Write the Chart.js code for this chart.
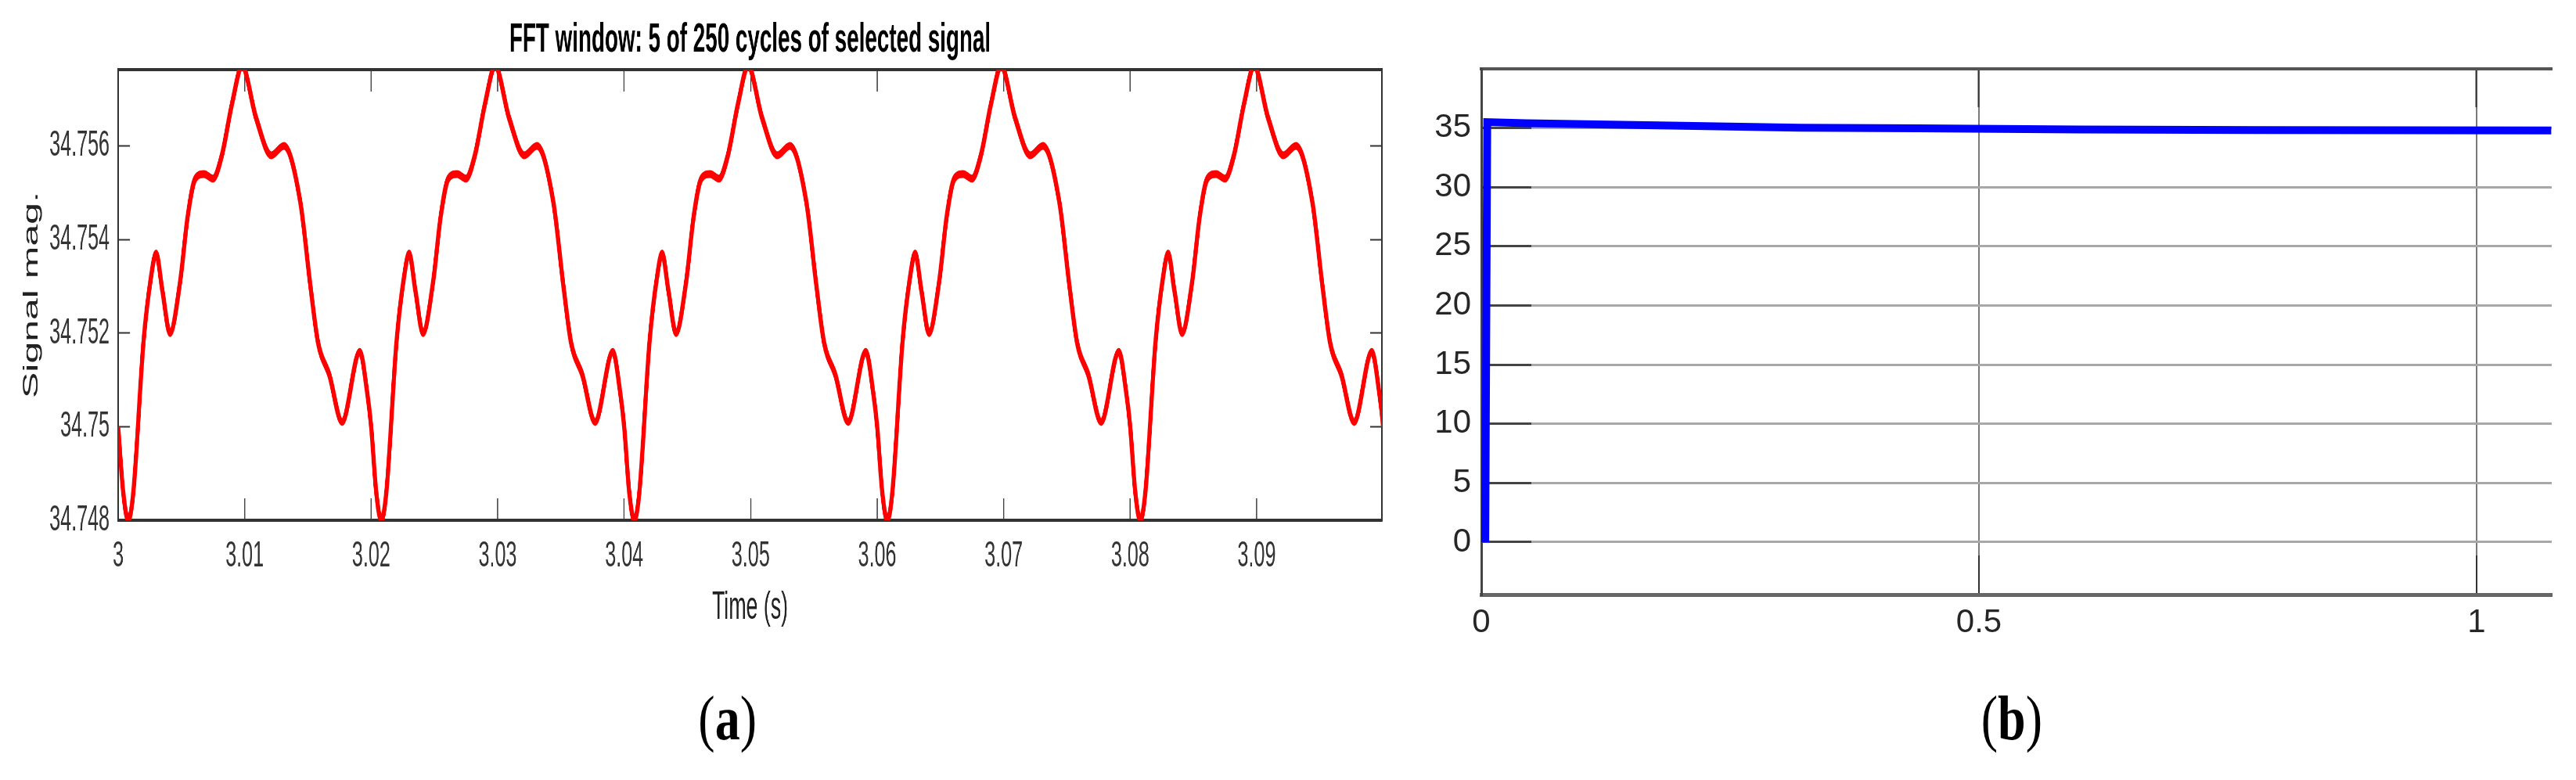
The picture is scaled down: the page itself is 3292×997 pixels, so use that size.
<!DOCTYPE html>
<html>
<head>
<meta charset="utf-8">
<script src="https://cdn.jsdelivr.net/npm/chart.js@4.4.1/dist/chart.umd.min.js"></script>
<style>
  html, body { margin: 0; padding: 0; background: #fff; }
  body { width: 3292px; height: 997px; position: relative; overflow: hidden; }
  /* panel (a) is a horizontally squeezed scope shot, so the canvas is squeezed too */
  #chartA { position: absolute; left: 0; top: 0; transform: scaleX(0.535); transform-origin: 0 0; }
  #chartB { position: absolute; left: 1800px; top: 0; }
  .caption { position: absolute; top: 878px; width: 200px; text-align: center;
             font: 80px/1 'Liberation Serif', 'Times New Roman', serif; color: #000; }
  .caption span { display: inline-block; transform: scaleX(0.8); }
</style>
</head>
<body>
<canvas id="chartA" width="3361" height="997"></canvas>
<canvas id="chartB" width="1492" height="997"></canvas>
<div class="caption" style="left:830px"><span>(<b>a</b>)</span></div>
<div class="caption" style="left:2471px"><span>(<b>b</b>)</span></div>
<script>
// (a) one 20 ms cycle of the FFT window (all five cycles have this shape)
const cycleOffsetA = [0, 0.0004, 0.0008, 0.0012, 0.0020, 0.0026, 0.0030, 0.0035, 0.0041, 0.0049,
  0.0055, 0.0061, 0.0068, 0.0075, 0.0082, 0.0090, 0.0098, 0.0109, 0.0121, 0.0131,
  0.0144, 0.0152, 0.0158, 0.0167, 0.0177, 0.0191, 0.0197];
const cycleValueA = [34.7500, 34.7486, 34.7480, 34.7486, 34.7518, 34.7532, 34.7537, 34.7529, 34.7520, 34.7531,
  34.7545, 34.7553, 34.7554, 34.7553, 34.7558, 34.7569, 34.7577, 34.7566, 34.7558, 34.7560,
  34.7548, 34.7530, 34.7518, 34.7511, 34.7501, 34.7516, 34.7507];
const cycleStartA = [3.00, 3.02, 3.04, 3.06, 3.08, 3.10];

const xTicksA = [3, 3.01, 3.02, 3.03, 3.04, 3.05, 3.06, 3.07, 3.08, 3.09];
const xLabelsA = ['3', '3.01', '3.02', '3.03', '3.04', '3.05', '3.06', '3.07', '3.08', '3.09'];
const yTicksA = [34.748, 34.75, 34.752, 34.754, 34.756];
const yLabelsA = ['34.748', '34.75', '34.752', '34.754', '34.756'];

// (b) output voltage start-up
const timeB = [0.004, 0.006, 0.045, 0.19, 0.32, 0.44, 0.6, 0.78, 1.075];
const voltB = [0, 35.5, 35.4, 35.2, 35.03, 34.97, 34.88, 34.82, 34.8];

const xTicksB = [0, 0.5, 1];
const xLabelsB = ['0', '0.5', '1'];
const yTicksB = [0, 5, 10, 15, 20, 25, 30, 35];
const yLabelsB = ['0', '5', '10', '15', '20', '25', '30', '35'];

const sans = "'Liberation Sans', Arial, Helvetica, sans-serif";

const seriesA = [];
cycleStartA.forEach(t0 => {
  cycleOffsetA.forEach((dt, i) => seriesA.push({ x: +(t0 + dt).toFixed(5), y: cycleValueA[i] }));
});
const seriesB = timeB.map((t, i) => ({ x: t, y: voltB[i] }));

// put the ticks exactly where the figure has them
function useTicks(values) {
  return axis => { axis.ticks = values.map(v => ({ value: v })); };
}
// fixed axis box size so the plot area lands where it is in the figure
function boxSize(size) {
  return axis => {
    if (axis.isHorizontal()) axis.height = size; else axis.width = size;
    axis.paddingLeft = axis.paddingRight = axis.paddingTop = axis.paddingBottom = 0;
  };
}

// MATLAB-style box: inward ticks on all four sides, no grid
new Chart(document.getElementById('chartA'), {
  type: 'line',
  data: {
    datasets: [{
      data: seriesA,
      borderColor: '#ff0000',
      borderWidth: 10,
      pointRadius: 0,
      cubicInterpolationMode: 'monotone',
      fill: false,
      xAxisID: 'x',
      yAxisID: 'y'
    }]
  },
  options: {
    responsive: false,
    animation: false,
    devicePixelRatio: 1,
    layout: { autoPadding: false, padding: { top: 0, left: 0, right: 60, bottom: 189.6 } },
    plugins: {
      legend: { display: false },
      tooltip: { enabled: false },
      title: {
        display: true,
        fullSize: false,
        text: 'FFT window: 5 of 250 cycles of selected signal',
        color: '#000',
        font: { family: sans, size: 52, weight: 'bold', lineHeight: 1.2 },
        padding: { top: 20, bottom: 6.6 }
      }
    },
    scales: {
      x: {
        type: 'linear', position: 'bottom', min: 3, max: 3.0999,
        afterBuildTicks: useTicks(xTicksA),
        afterFit: boxSize(142.4),
        ticks: { callback: (v, i) => xLabelsA[i], font: { family: sans, size: 47 }, color: '#333',
                 padding: 46.3, maxRotation: 0, autoSkip: false, includeBounds: false },
        grid: { drawOnChartArea: false, tickLength: -28, tickWidth: 2.5, tickColor: '#333' },
        border: { color: '#333', width: 4 },
        title: { display: true, text: 'Time (s)', color: '#222', font: { family: sans, size: 50 }, padding: 0 }
      },
      xTop: {
        type: 'linear', axis: 'x', position: 'top', min: 3, max: 3.0999,
        afterBuildTicks: useTicks(xTicksA),
        afterFit: boxSize(0),
        ticks: { display: false },
        grid: { drawOnChartArea: false, tickLength: -28, tickWidth: 2.5, tickColor: '#333' },
        border: { color: '#333', width: 4 }
      },
      y: {
        type: 'linear', position: 'left', min: 34.748, max: 34.75763,
        afterBuildTicks: useTicks(yTicksA),
        afterFit: boxSize(282.2),
        ticks: { callback: (v, i) => yLabelsA[i], font: { family: sans, size: 47 }, color: '#333',
                 padding: 48.5, autoSkip: false, includeBounds: false },
        grid: { drawOnChartArea: false, tickLength: -28, tickWidth: 2, tickColor: '#333' },
        border: { color: '#333', width: 4 },
        title: { display: true, text: 'Signal mag.', color: '#222', font: { family: sans, size: 50 },
                 padding: { top: 46.6, bottom: 0 } }
      },
      yRight: {
        type: 'linear', axis: 'y', position: 'right', min: 34.748, max: 34.75763,
        afterBuildTicks: useTicks(yTicksA),
        afterFit: boxSize(0),
        ticks: { display: false },
        grid: { drawOnChartArea: false, tickLength: -28, tickWidth: 2, tickColor: '#333' },
        border: { color: '#333', width: 4 }
      }
    }
  }
});

// Simulink scope style: grey grid, dark inward ticks, right side cut off
new Chart(document.getElementById('chartB'), {
  type: 'line',
  data: {
    datasets: [{
      data: seriesB,
      borderColor: '#0000ff',
      borderWidth: 10,
      pointRadius: 0,
      tension: 0,
      borderJoinStyle: 'miter',
      borderCapStyle: 'butt',
      fill: false,
      xAxisID: 'x',
      yAxisID: 'y'
    }]
  },
  options: {
    responsive: false,
    animation: false,
    devicePixelRatio: 1,
    layout: { autoPadding: false, padding: { top: 88, left: 0, right: 31, bottom: 177 } },
    plugins: { legend: { display: false }, tooltip: { enabled: false }, title: { display: false } },
    scales: {
      x: {
        type: 'linear', position: 'bottom', min: 0, max: 1.0755,
        afterBuildTicks: useTicks(xTicksB),
        afterFit: boxSize(60),
        ticks: { callback: (v, i) => xLabelsB[i], font: { family: sans, size: 42 }, color: '#262626',
                 padding: 61, maxRotation: 0, autoSkip: false, includeBounds: false },
        grid: { color: '#7a7a7a', lineWidth: 2, tickLength: -50, tickWidth: 2, tickColor: '#333' },
        border: { color: '#666', width: 5 }
      },
      xTop: {
        type: 'linear', axis: 'x', position: 'top', min: 0, max: 1.0755,
        afterBuildTicks: useTicks(xTicksB),
        afterFit: boxSize(0),
        ticks: { display: false },
        grid: { drawOnChartArea: false, tickLength: -49, tickWidth: 2, tickColor: '#333' },
        border: { color: '#555', width: 4 }
      },
      y: {
        type: 'linear', position: 'left', min: -4.43, max: 40,
        afterBuildTicks: useTicks(yTicksB),
        afterFit: boxSize(93),
        ticks: { callback: (v, i) => yLabelsB[i], font: { family: sans, size: 42 }, color: '#262626',
                 padding: 77, autoSkip: false, includeBounds: false },
        grid: { color: '#a8a8a8', lineWidth: 3, tickLength: -64, tickWidth: 3, tickColor: '#444' },
        border: { color: '#444', width: 3 }
      }
    }
  }
});
</script>
</body>
</html>
